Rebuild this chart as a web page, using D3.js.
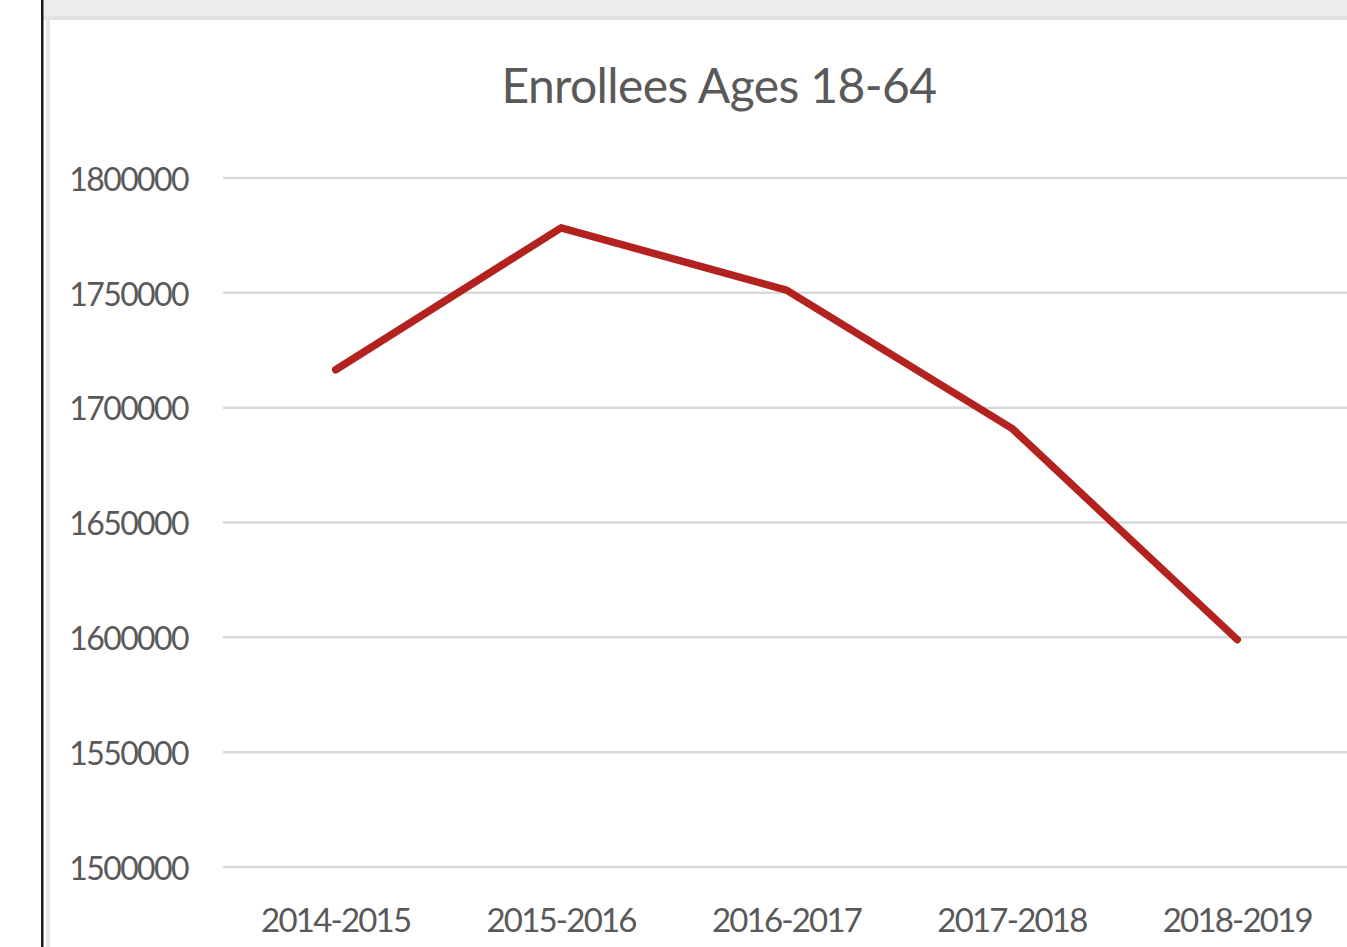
<!DOCTYPE html>
<html>
<head>
<meta charset="utf-8">
<script src="https://cdn.jsdelivr.net/npm/d3@7"></script>
<style>
  body { margin: 0; background: #fff; overflow: hidden; }
</style>
</head>
<body>
<div id="chart"></div>
<script>
// data
var years = ["2014-2015", "2015-2016", "2016-2017", "2017-2018", "2018-2019"]
var enrollees = [1716500, 1778300, 1751200, 1691000, 1599000]
var yTicks = [1500000, 1550000, 1600000, 1650000, 1700000, 1750000, 1800000]

var W = 1347, H = 947
var svg = d3.select("#chart").append("svg")
    .attr("width", W)
    .attr("height", H)

// window frame bits around the chart
svg.append("rect").attr("x", 0).attr("y", 0).attr("width", W).attr("height", 17).attr("fill", "#ececec")
svg.append("rect").attr("x", 43).attr("y", 16).attr("width", W).attr("height", 4).attr("fill", "#e2e2e2")
svg.append("rect").attr("x", 0).attr("y", 0).attr("width", 41).attr("height", H).attr("fill", "#fff")
svg.append("rect").attr("x", 41).attr("y", 0).attr("width", 2.5).attr("height", H).attr("fill", "#1a1a1a")
svg.append("rect").attr("x", 46).attr("y", 16).attr("width", 4).attr("height", H).attr("fill", "#e6e6e6")

var x = d3.scaleBand()
    .domain(years)
    .range([223, 1350])

var y = d3.scaleLinear()
    .domain([1500000, 1800000])
    .range([867, 178])

// gridlines
svg.append("g")
    .selectAll("line")
    .data(yTicks)
    .join("line")
    .attr("x1", 223)
    .attr("x2", W)
    .attr("y1", function(d) { return y(d) })
    .attr("y2", function(d) { return y(d) })
    .attr("stroke", "#d9d9d9")
    .attr("stroke-width", 2.5)

// y axis labels
var yAxis = svg.append("g")
    .attr("transform", "translate(188,0)")
    .call(d3.axisLeft(y).tickValues(yTicks).tickFormat(d3.format("d")).tickSize(0).tickPadding(0))
yAxis.select(".domain").remove()
yAxis.selectAll("text")
    .attr("font-family", "Lato, 'Open Sans', sans-serif")
    .attr("font-size", 32)
    .attr("letter-spacing", -1.6)
    .attr("fill", "#595959")
    .attr("dy", "0.38em")

// x axis labels
var xAxis = svg.append("g")
    .attr("transform", "translate(0,909)")
    .call(d3.axisBottom(x).tickSize(0).tickPadding(0))
xAxis.select(".domain").remove()
xAxis.selectAll("text")
    .attr("font-family", "Lato, 'Open Sans', sans-serif")
    .attr("font-size", 33)
    .attr("letter-spacing", -1.8)
    .attr("fill", "#595959")
    .attr("dy", "0.71em")

// the line
var line = d3.line()
    .x(function(d, i) { return x(years[i]) + x.bandwidth() / 2 })
    .y(function(d) { return y(d) })

svg.append("path")
    .datum(enrollees)
    .attr("d", line)
    .attr("fill", "none")
    .attr("stroke", "#b3221e")
    .attr("stroke-width", 7.5)
    .attr("stroke-linejoin", "round")
    .attr("stroke-linecap", "round")

// title
svg.append("text")
    .attr("x", 719)
    .attr("y", 103)
    .attr("text-anchor", "middle")
    .attr("font-family", "Lato, 'Open Sans', sans-serif")
    .attr("font-size", 48)
    .attr("letter-spacing", -0.6)
    .attr("fill", "#595959")
    .text("Enrollees Ages 18-64")
</script>
</body>
</html>
